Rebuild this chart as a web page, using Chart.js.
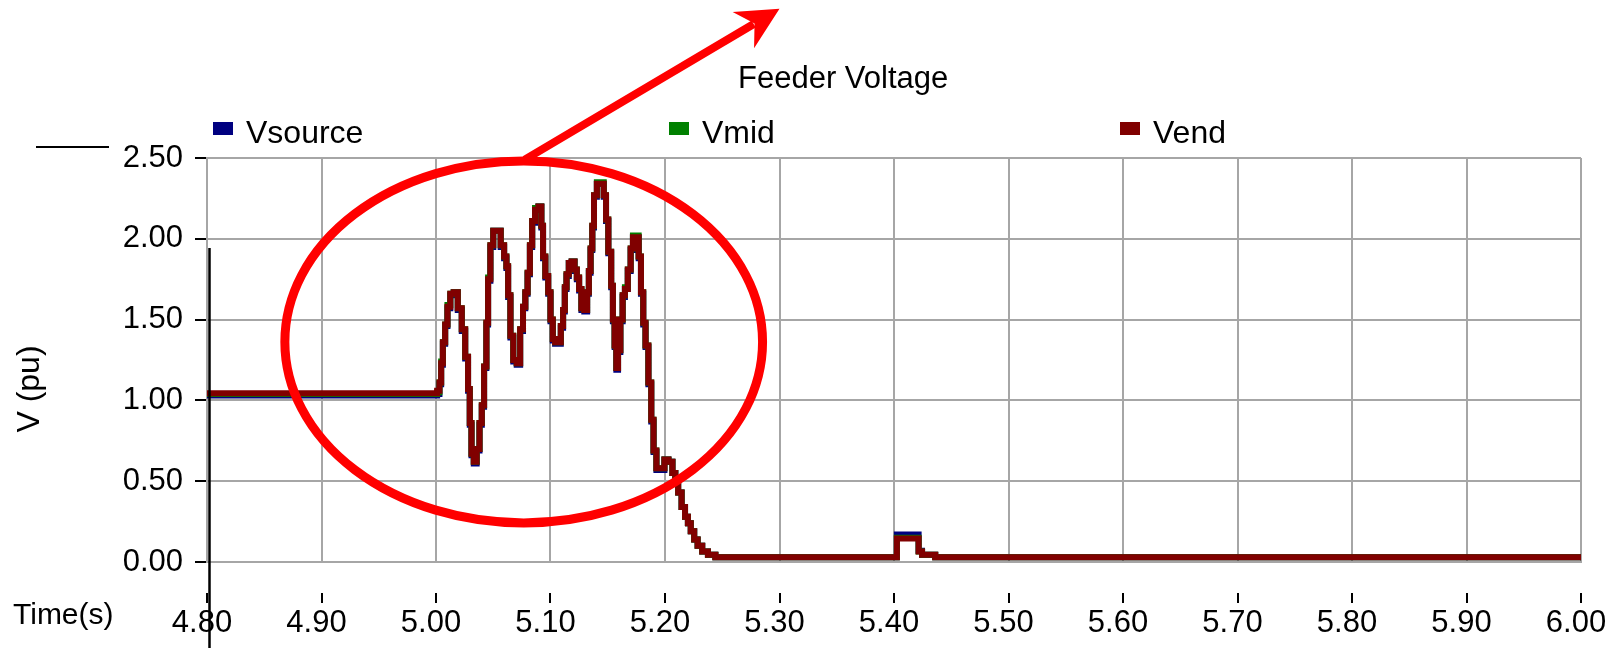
<!DOCTYPE html>
<html><head><meta charset="utf-8">
<script src="https://cdn.jsdelivr.net/npm/chart.js@4.4.0/dist/chart.umd.min.js"></script>
<style>html,body{margin:0;padding:0;background:#fff;overflow:hidden}canvas{display:block}</style>
</head><body>
<canvas id="c" width="1614" height="648" style="width:1614px;height:648px"></canvas>
<script>
// ---- data ----
const timeS = [4.800,5.000,5.002,5.004,5.005,5.007,5.009,5.011,5.014,5.017,
 5.021,5.024,5.027,5.029,5.030,5.032,5.034,5.037,5.039,5.041,
 5.043,5.045,5.046,5.049,5.051,5.055,5.058,5.061,5.062,5.064,
 5.066,5.069,5.072,5.075,5.077,5.079,5.081,5.083,5.085,5.088,
 5.091,5.093,5.094,5.097,5.099,5.101,5.103,5.105,5.108,5.110,
 5.112,5.113,5.115,5.117,5.120,5.122,5.124,5.126,5.128,5.131,
 5.133,5.134,5.136,5.137,5.139,5.142,5.145,5.148,5.149,5.152,
 5.154,5.155,5.157,5.158,5.160,5.162,5.164,5.166,5.169,5.171,
 5.173,5.176,5.178,5.180,5.182,5.184,5.187,5.189,5.191,5.194,
 5.198,5.201,5.205,5.208,5.210,5.213,5.216,5.219,5.221,5.224,
 5.227,5.230,5.235,5.240,5.248,5.402,5.403,5.421,5.422,5.427,
 5.435,5.437,6.000];
const vsource = [1.03,1.03,1.04,1.10,1.22,1.35,1.46,1.57,1.65,1.67,
 1.56,1.43,1.26,1.06,0.85,0.66,0.61,0.69,0.85,0.96,
 1.20,1.47,1.74,1.95,2.05,2.05,1.95,1.88,1.82,1.64,
 1.39,1.24,1.22,1.43,1.57,1.66,1.78,1.95,2.10,2.18,
 2.20,2.07,1.88,1.76,1.66,1.49,1.37,1.35,1.35,1.45,
 1.55,1.69,1.77,1.85,1.86,1.80,1.75,1.68,1.56,1.55,
 1.66,1.79,1.93,2.07,2.26,2.34,2.34,2.26,2.11,1.91,
 1.70,1.49,1.33,1.19,1.30,1.49,1.64,1.69,1.80,1.93,
 2.01,2.01,1.88,1.66,1.47,1.33,1.10,0.87,0.68,0.57,
 0.57,0.635,0.62,0.55,0.49,0.43,0.34,0.28,0.24,0.19,
 0.14,0.10,0.065,0.045,0.03,0.03,0.17,0.17,0.07,0.045,
 0.045,0.03,0.03];
const vmid = [1.04,1.04,1.05,1.11,1.24,1.36,1.47,1.59,1.66,1.67,
 1.57,1.44,1.27,1.07,0.86,0.67,0.62,0.70,0.86,0.97,
 1.21,1.48,1.76,1.96,2.05,2.05,1.96,1.89,1.83,1.65,
 1.40,1.25,1.23,1.44,1.58,1.67,1.79,1.96,2.11,2.19,
 2.20,2.08,1.89,1.77,1.67,1.50,1.38,1.36,1.36,1.46,
 1.56,1.70,1.78,1.85,1.86,1.81,1.76,1.69,1.57,1.56,
 1.67,1.80,1.94,2.08,2.27,2.35,2.35,2.27,2.12,1.92,
 1.71,1.50,1.34,1.20,1.31,1.50,1.65,1.70,1.81,1.94,
 2.02,2.02,1.89,1.67,1.48,1.34,1.11,0.88,0.69,0.58,
 0.58,0.635,0.62,0.55,0.49,0.43,0.34,0.28,0.24,0.19,
 0.14,0.10,0.065,0.045,0.03,0.03,0.15,0.15,0.065,0.045,
 0.045,0.03,0.03];
const vend = [1.045,1.045,1.06,1.11,1.23,1.36,1.47,1.58,1.66,1.67,
 1.57,1.44,1.27,1.07,0.86,0.67,0.62,0.70,0.86,0.97,
 1.21,1.48,1.75,1.96,2.05,2.05,1.96,1.89,1.83,1.65,
 1.40,1.25,1.23,1.44,1.58,1.67,1.79,1.96,2.11,2.18,
 2.20,2.08,1.89,1.77,1.67,1.50,1.38,1.36,1.36,1.46,
 1.56,1.70,1.78,1.85,1.86,1.81,1.76,1.69,1.57,1.56,
 1.67,1.80,1.94,2.08,2.27,2.34,2.34,2.27,2.12,1.92,
 1.71,1.50,1.34,1.20,1.31,1.50,1.65,1.69,1.81,1.94,
 2.01,2.01,1.89,1.67,1.48,1.34,1.11,0.88,0.69,0.58,
 0.58,0.635,0.62,0.55,0.49,0.43,0.34,0.28,0.24,0.19,
 0.14,0.10,0.065,0.045,0.03,0.03,0.145,0.145,0.065,0.045,
 0.045,0.03,0.03];
const seriesNames = ['Vsource','Vmid','Vend'];
const xTicks = [4.8,4.9,5.0,5.1,5.2,5.3,5.4,5.5,5.6,5.7,5.8,5.9,6.0];
const xTickLabels = ['4.80','4.90','5.00','5.10','5.20','5.30','5.40','5.50','5.60','5.70','5.80','5.90','6.00'];
const yTicks = [0,0.5,1.0,1.5,2.0,2.5];
const yTickLabels = ['0.00','0.50','1.00','1.50','2.00','2.50'];
const chartTitle = 'Feeder Voltage';
const xTitle = 'Time(s)';
const yTitle = 'V (pu)';
// highlight annotation (data units)
const ring = {cx: 5.0766, cy: 1.362, rx: 0.2086, ry: 1.12};
const pointer = {x0: 5.0775, y0: 2.49, x1: 5.30, y1: 3.424};

// ---- styles ----
const FONT = "'Liberation Sans', Arial, Helvetica, sans-serif";
const COLORS = ['#000080', '#008000', '#800000'];
const GRID = '#a6a6a6';
Chart.defaults.font.family = FONT;
Chart.defaults.font.size = 31;
Chart.defaults.color = '#000';

const pts = vals => timeS.map((t, i) => ({x: t, y: vals[i]}));

const deco = {
  id: 'deco',
  afterDraw(chart) {
    const {ctx, chartArea: ca} = chart;
    const x = chart.scales.x, y = chart.scales.y;
    ctx.save();
    // x tick marks (detached below plot)
    ctx.strokeStyle = '#000'; ctx.lineWidth = 2;
    x.ticks.forEach(tk => {
      const px = Math.round(x.getPixelForValue(tk.value));
      ctx.beginPath(); ctx.moveTo(px, ca.bottom + 31); ctx.lineTo(px, ca.bottom + 41); ctx.stroke();
    });
    ctx.fillStyle = '#000';
    ctx.textAlign = 'left'; ctx.textBaseline = 'alphabetic';
    ctx.font = '30px ' + FONT;
    ctx.fillText(xTitle, 13, 624);
    ctx.font = '31px ' + FONT;
    ctx.fillText(chartTitle, 738, 88);
    // y title
    ctx.save(); ctx.translate(38.5, 389); ctx.rotate(-Math.PI / 2);
    ctx.font = '32px ' + FONT;
    ctx.textAlign = 'center'; ctx.fillText(yTitle, 0, 0); ctx.restore();
    // legend
    ctx.font = '32px ' + FONT;
    const lx = [213, 669, 1120];
    seriesNames.forEach((n, i) => {
      ctx.fillStyle = COLORS[i];
      ctx.fillRect(lx[i], 122, 20, 13);
      ctx.fillStyle = '#000';
      ctx.fillText(n, lx[i] + 33, 143);
    });
    // stray black strokes
    ctx.strokeStyle = '#000'; ctx.lineWidth = 2;
    ctx.beginPath(); ctx.moveTo(36, 147); ctx.lineTo(109, 147); ctx.stroke();
    ctx.lineWidth = 2.5;
    ctx.beginPath(); ctx.moveTo(209.5, 248); ctx.lineTo(209.5, 648); ctx.stroke();
    // red ellipse
    const cx = x.getPixelForValue(ring.cx), cy = y.getPixelForValue(ring.cy);
    const rx = Math.abs(x.getPixelForValue(ring.cx + ring.rx) - cx);
    const ry = Math.abs(y.getPixelForValue(ring.cy + ring.ry) - cy);
    ctx.strokeStyle = '#ff0000'; ctx.lineWidth = 9;
    ctx.beginPath(); ctx.ellipse(cx, cy, rx, ry, 0, 0, Math.PI * 2); ctx.stroke();
    // arrow
    const ax0 = x.getPixelForValue(pointer.x0), ay0 = y.getPixelForValue(pointer.y0);
    const ax1 = x.getPixelForValue(pointer.x1), ay1 = y.getPixelForValue(pointer.y1);
    const L = Math.hypot(ax1 - ax0, ay1 - ay0);
    const ux = (ax1 - ax0) / L, uy = (ay1 - ay0) / L;
    const nx = -uy, ny = ux;
    ctx.lineWidth = 8; ctx.lineCap = 'butt';
    ctx.beginPath(); ctx.moveTo(ax0, ay0); ctx.lineTo(ax1 - 30 * ux, ay1 - 30 * uy); ctx.stroke();
    ctx.fillStyle = '#ff0000';
    ctx.beginPath();
    ctx.moveTo(ax1, ay1);
    ctx.lineTo(ax1 - 42 * ux + 21 * nx, ay1 - 42 * uy + 21 * ny);
    ctx.lineTo(ax1 - 29 * ux, ay1 - 29 * uy);
    ctx.lineTo(ax1 - 42 * ux - 21 * nx, ay1 - 42 * uy - 21 * ny);
    ctx.closePath(); ctx.fill();
    ctx.restore();
  }
};

new Chart(document.getElementById('c'), {
  type: 'line',
  data: {
    datasets: [
      {label: seriesNames[0], data: pts(vsource), borderColor: COLORS[0], backgroundColor: COLORS[0], order: 3},
      {label: seriesNames[1], data: pts(vmid), borderColor: COLORS[1], backgroundColor: COLORS[1], order: 2},
      {label: seriesNames[2], data: pts(vend), borderColor: COLORS[2], backgroundColor: COLORS[2], order: 1}
    ]
  },
  options: {
    responsive: false,
    devicePixelRatio: 1,
    animation: false,
    events: [],
    elements: {
      line: {borderWidth: 6, tension: 0, stepped: 'middle', borderJoinStyle: 'miter', borderCapStyle: 'butt'},
      point: {radius: 0}
    },
    layout: {padding: {top: 158, right: 33, bottom: 0, left: 0}},
    plugins: {legend: {display: false}, title: {display: false}, tooltip: {enabled: false}},
    scales: {
      x: {
        type: 'linear', min: 4.8, max: 6.0,
        afterBuildTicks: s => { s.ticks = xTicks.map(v => ({value: v})); },
        afterFit: s => { s.height = 86; s.paddingLeft = 0; s.paddingRight = 0; },
        grid: {color: GRID, lineWidth: 2, drawTicks: false},
        border: {color: GRID, width: 2},
        ticks: {autoSkip: false, maxRotation: 0, padding: 43, labelOffset: -5,
          callback: (v, i) => xTickLabels[i], font: {size: 31, family: FONT}, color: '#000'}
      },
      y: {
        type: 'linear', min: 0, max: 2.5,
        afterBuildTicks: s => { s.ticks = yTicks.map(v => ({value: v})); },
        afterFit: s => { s.width = 207; s.paddingTop = 0; s.paddingBottom = 0; },
        grid: {color: GRID, lineWidth: 2, tickLength: 12, tickColor: '#000', tickWidth: 2},
        border: {color: GRID, width: 2},
        ticks: {padding: 12, callback: (v, i) => yTickLabels[i], font: {size: 31, family: FONT}, color: '#000'}
      }
    }
  },
  plugins: [deco]
});
</script>
</body></html>
